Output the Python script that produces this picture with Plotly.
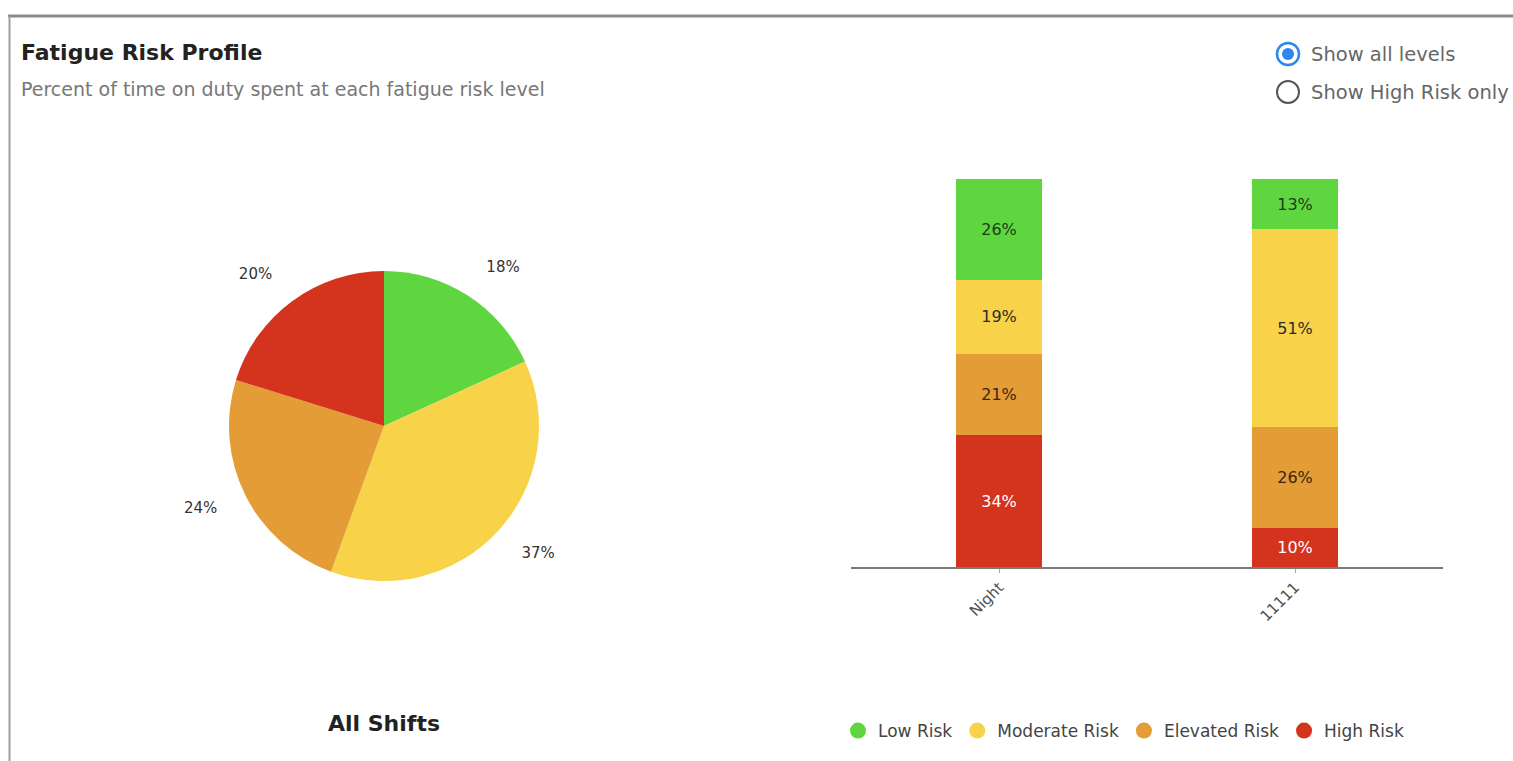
import plotly.graph_objects as go

W, H = 1513, 761

# ---- data ----
risk_levels = ["Low Risk", "Moderate Risk", "Elevated Risk", "High Risk"]
risk_colors = ["#5fd53f", "#f8d34a", "#e39c36", "#d4331e"]
text_colors = ["#1d3d1d", "#2b2b2b", "#3a2612", "#ffffff"]

pie_values = [18, 37, 24, 20]  # All Shifts: Low, Moderate, Elevated, High

shift_categories = ["Night", "11111"]
low_vals = [26, 13]
moderate_vals = [19, 51]
elevated_vals = [21, 26]
high_vals = [34, 10]

title_text = "Fatigue Risk Profile"
subtitle_text = "Percent of time on duty spent at each fatigue risk level"
pie_title = "All Shifts"
radio_labels = ["Show all levels", "Show High Risk only"]

FONT = "'DejaVu Sans', sans-serif"


def px(x):
    return x / W


def py(y):
    return 1 - y / H


fig = go.Figure()

# ---- pie (coloured slices) ----
fig.add_trace(go.Pie(
    labels=risk_levels,
    values=pie_values,
    sort=False,
    direction="clockwise",
    rotation=0,
    marker=dict(colors=risk_colors, line=dict(width=0)),
    textinfo="none",
    showlegend=False,
    hoverinfo="label+value",
    domain=dict(x=[px(229), px(539)], y=[py(581), py(271)]),
))
# same pie, transparent and slightly larger, carrying the outside labels
fig.add_trace(go.Pie(
    labels=risk_levels,
    values=pie_values,
    sort=False,
    direction="clockwise",
    rotation=0,
    marker=dict(colors=["rgba(0,0,0,0)"] * len(pie_values), line=dict(width=0)),
    texttemplate="%{value}%",
    textposition="outside",
    textfont=dict(size=15, color="#333333", family=FONT),
    showlegend=False,
    hoverinfo="skip",
    domain=dict(x=[px(203), px(565)], y=[py(607), py(245)]),
))

# ---- stacked bars (bottom to top: High, Elevated, Moderate, Low) ----
bar_series = [
    ("High Risk", high_vals, risk_colors[3], text_colors[3]),
    ("Elevated Risk", elevated_vals, risk_colors[2], text_colors[2]),
    ("Moderate Risk", moderate_vals, risk_colors[1], text_colors[1]),
    ("Low Risk", low_vals, risk_colors[0], text_colors[0]),
]
for name, vals, col, tcol in bar_series:
    fig.add_trace(go.Bar(
        x=shift_categories,
        y=vals,
        name=name,
        marker=dict(color=col, line=dict(width=0)),
        text=[f"{v}%" for v in vals],
        textposition="inside",
        insidetextanchor="middle",
        textangle=0,
        textfont=dict(size=16, color=tcol, family=FONT),
        showlegend=False,
        legendgroup=name,
    ))

# legend entries as circles
for name, col in zip(risk_levels, risk_colors):
    fig.add_trace(go.Scatter(
        x=[None], y=[None], mode="markers", name=name,
        marker=dict(symbol="circle", size=16, color=col),
        legendgroup=name, showlegend=True, hoverinfo="skip",
    ))

fig.update_layout(
    width=W, height=H,
    margin=dict(l=0, r=0, t=0, b=0),
    paper_bgcolor="white",
    plot_bgcolor="white",
    font=dict(family=FONT, color="#444444"),
    barmode="stack",
    bargap=0.71,
    xaxis=dict(
        domain=[px(851), px(1443)],
        type="category",
        range=[-0.5, 1.5],
        showline=True, linecolor="#7a7a7a", linewidth=1.5,
        ticks="outside", ticklen=4, tickcolor="#aaaaaa",
        tickangle=-45,
        tickfont=dict(size=15, color="#505050", family=FONT),
        showgrid=False, zeroline=False, fixedrange=True,
    ),
    yaxis=dict(
        domain=[py(567), py(179)],
        range=[0, 100],
        visible=False, showgrid=False, zeroline=False, fixedrange=True,
    ),
    legend=dict(
        orientation="h",
        x=px(838), xanchor="left",
        y=py(731), yanchor="middle",
        font=dict(size=17, color="#444444", family=FONT),
        itemclick=False, itemdoubleclick=False,
        bgcolor="rgba(0,0,0,0)",
    ),
    showlegend=True,
)

annotations = [
    dict(text=f"<b>{title_text}</b>", x=px(19), y=py(53), xref="paper", yref="paper",
         xanchor="left", yanchor="middle", showarrow=False,
         font=dict(size=22, color="#222222", family=FONT)),
    dict(text=subtitle_text, x=px(19), y=py(89), xref="paper", yref="paper",
         xanchor="left", yanchor="middle", showarrow=False,
         font=dict(size=19, color="#777777", family=FONT)),
    dict(text=f"<b>{pie_title}</b>", x=px(384), y=py(723), xref="paper", yref="paper",
         xanchor="center", yanchor="middle", showarrow=False,
         font=dict(size=22, color="#222222", family=FONT)),
    dict(text=radio_labels[0], x=px(1309), y=py(55), xref="paper", yref="paper",
         xanchor="left", yanchor="middle", showarrow=False,
         font=dict(size=19.5, color="#666666", family=FONT)),
    dict(text=radio_labels[1], x=px(1309), y=py(92), xref="paper", yref="paper",
         xanchor="left", yanchor="middle", showarrow=False,
         font=dict(size=19.5, color="#666666", family=FONT)),
]
fig.update_layout(annotations=annotations)


def circle(cx, cy, r, **kw):
    return dict(type="circle", xref="paper", yref="paper",
                x0=px(cx - r), x1=px(cx + r), y0=py(cy + r), y1=py(cy - r), **kw)


shapes = [
    # frame
    dict(type="line", xref="paper", yref="paper", x0=px(8), x1=1, y0=py(16), y1=py(16),
         line=dict(color="#8a8a8a", width=3)),
    dict(type="line", xref="paper", yref="paper", x0=px(9.5), x1=px(9.5), y0=py(16), y1=0,
         line=dict(color="#a0a0a0", width=2)),
    # radio buttons
    circle(1288, 54, 11, line=dict(color="#2e86f0", width=2.5), fillcolor="white"),
    circle(1288, 54, 6, line=dict(width=0), fillcolor="#2e86f0"),
    circle(1288, 92, 11, line=dict(color="#555555", width=2), fillcolor="white"),
]
fig.update_layout(shapes=shapes)

fig.write_html(
    "out.html",
    config={"displayModeBar": False},
    post_script="document.body.style.margin='0';document.body.style.overflow='hidden';",
)
